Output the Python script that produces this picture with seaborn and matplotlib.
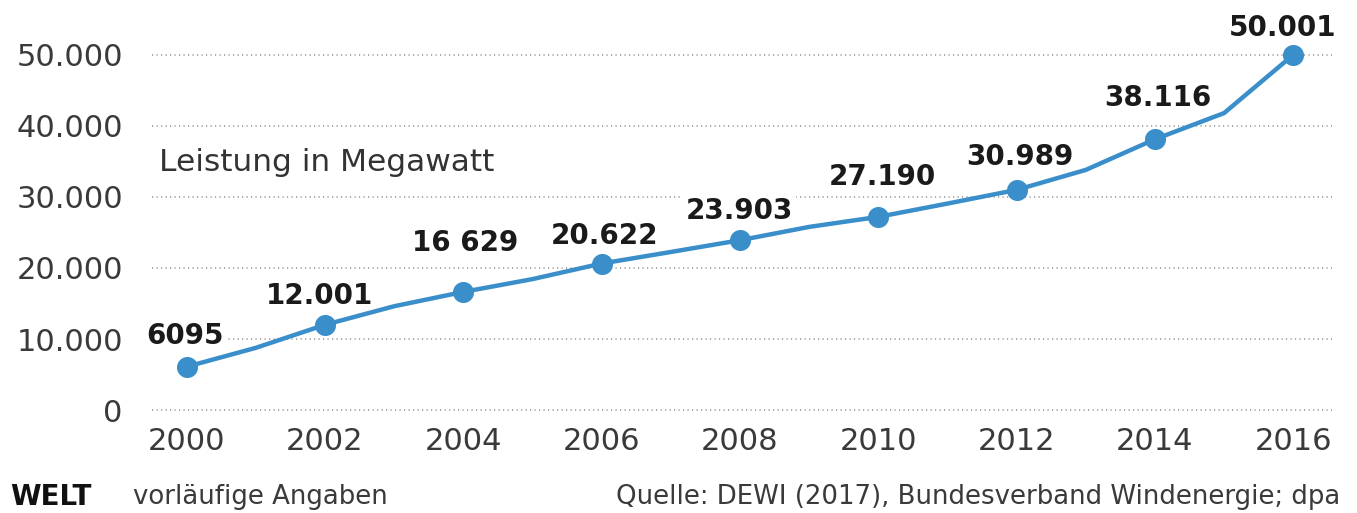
import matplotlib
matplotlib.use("Agg")
import matplotlib.pyplot as plt
import seaborn as sns
import pandas as pd

# data (odd years only shape the line, no marker)
years = [2000, 2001, 2002, 2003, 2004, 2005, 2006, 2007, 2008,
         2009, 2010, 2011, 2012, 2013, 2014, 2015, 2016]
leistung = [6095, 8754, 12001, 14609, 16629, 18428, 20622, 22247, 23903,
            25777, 27190, 29060, 30989, 33800, 38116, 41800, 50001]
marked_years = [2000, 2002, 2004, 2006, 2008, 2010, 2012, 2014, 2016]
labels = ["6095", "12.001", "16 629", "20.622", "23.903",
          "27.190", "30.989", "38.116", "50.001"]
y_ticks = [0, 10000, 20000, 30000, 40000, 50000]
y_ticklabels = ["0", "10.000", "20.000", "30.000", "40.000", "50.000"]

# label offsets in points (dx, dy) - style only
label_off = [(-1, 22), (-4, 21), (1, 35), (2, 20), (0, 21),
             (3, 29), (2, 24), (2, 30), (-8, 19)]

df = pd.DataFrame({"Jahr": years, "MW": leistung})
dm = df[df["Jahr"].isin(marked_years)]

sns.set_theme(style="white")
plt.rcParams["font.family"] = ["DejaVu Sans"]

blue = "#3a8fcb"
fig = plt.figure(figsize=(13.57, 5.13), dpi=100)
ax = fig.add_axes([152 / 1357, 1 - 420 / 513, (1332 - 152) / 1357, 400 / 513])

for yv in y_ticks:
    ax.axhline(yv, color="#9a9a9a", lw=1.2, ls=(0, (0.7, 2.0)), zorder=0)

sns.lineplot(data=df, x="Jahr", y="MW", ax=ax, color=blue, lw=3.2, zorder=3)
sns.scatterplot(data=dm, x="Jahr", y="MW", ax=ax, color=blue, s=230,
                edgecolor=blue, linewidth=0, zorder=4)

# labels sit behind the line, their white box only hides the dotted grid
for (x, y), lab, (dx, dy) in zip(dm[["Jahr", "MW"]].values, labels, label_off):
    ax.annotate(lab, (x, y), xytext=(dx, dy), textcoords="offset points",
                ha="center", va="center", fontsize=20, fontweight="bold",
                color="#1a1a1a", zorder=2,
                bbox=dict(boxstyle="square,pad=0.1", fc="white", ec="none"))

ax.text(1999.6, 34800, "Leistung in Megawatt", fontsize=22.5, color="#333333",
        va="center", ha="left")

ax.set_xlim(1999.5, 2016.56)
ax.set_ylim(-1400, 54900)
ax.set_xticks(marked_years)
ax.set_xticklabels([str(y) for y in marked_years])
ax.set_yticks(y_ticks)
ax.set_yticklabels(y_ticklabels)
ax.tick_params(axis="y", length=0, pad=21, labelsize=22, labelcolor="#3a3a3a")
ax.tick_params(axis="x", length=0, pad=5, labelsize=22, labelcolor="#3a3a3a")
ax.set_xlabel("")
ax.set_ylabel("")
sns.despine(ax=ax, left=True, bottom=True)

fig.text(10 / 1357, 1 - 497 / 513, "WELT", fontsize=20, fontweight="bold",
         color="#111111", va="center", ha="left")
fig.text(133 / 1357, 1 - 497 / 513, "vorläufige Angaben", fontsize=18.7,
         color="#3a3a3a", va="center", ha="left")
fig.text(1340 / 1357, 1 - 497 / 513,
         "Quelle: DEWI (2017), Bundesverband Windenergie; dpa", fontsize=18.7,
         color="#3a3a3a", va="center", ha="right")

fig.savefig("out.png", dpi=100, facecolor="white")
